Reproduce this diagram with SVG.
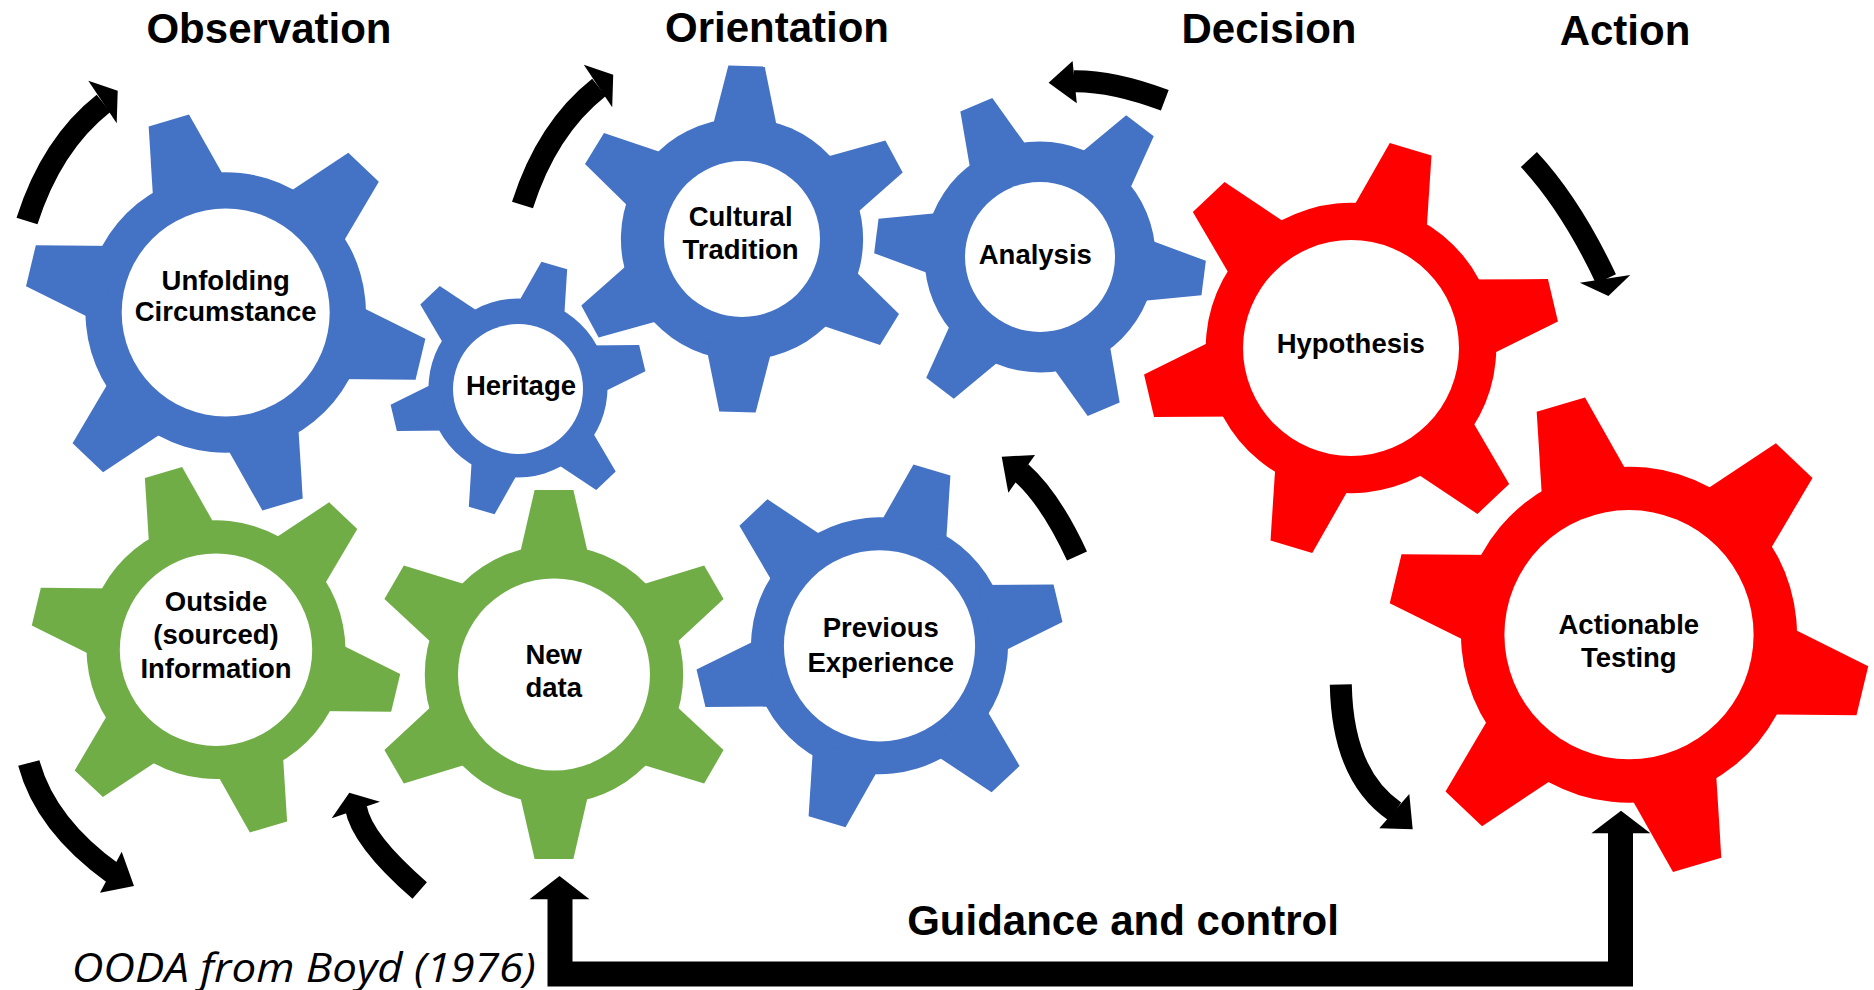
<svg xmlns="http://www.w3.org/2000/svg" xmlns:xlink="http://www.w3.org/1999/xlink" width="1874" height="990" viewBox="0 0 1874 990">
<style>
.blue{fill:#4472C4}
.green{fill:#70AD47}
.red{fill:#FF0000}
.hole{fill:#FFFFFF}
.lbl{font-family:"Liberation Sans",Arial,sans-serif;font-weight:bold;font-size:27.5px;fill:#000;text-anchor:middle}
.title{font-family:"Liberation Sans",Arial,sans-serif;font-weight:bold;font-size:42px;fill:#000;text-anchor:middle}
.arc{fill:none;stroke:#000;stroke-width:22}
.head{fill:#000}
.bar{fill:none;stroke:#000;stroke-width:25;stroke-linejoin:miter}
</style>
<defs>
<path id="tooth" d="M-10.5,-100 L10.5,-100 L19.7,-60 L-19.7,-60Z"/>
<g id="gear">
<circle r="70"/>
<use href="#tooth"/>
<use href="#tooth" transform="rotate(60)"/>
<use href="#tooth" transform="rotate(120)"/>
<use href="#tooth" transform="rotate(180)"/>
<use href="#tooth" transform="rotate(240)"/>
<use href="#tooth" transform="rotate(300)"/>
</g>
</defs>
<rect width="1874" height="990" fill="#FFFFFF"/>

<g id="titles">
<text class="title" x="269" y="43">Observation</text>
<text class="title" x="777" y="42">Orientation</text>
<text class="title" x="1269" y="43">Decision</text>
<text class="title" x="1625" y="45">Action</text>
</g>

<g id="node-unfolding">
<use href="#gear" class="blue" transform="translate(225.7,312.5) rotate(-16.5) scale(2.003)"/>
<circle class="hole" cx="225.7" cy="312.5" r="104"/>
<text class="lbl" x="225.7" y="289.5">Unfolding</text>
<text class="lbl" x="225.7" y="320.7">Circumstance</text>
</g>

<g id="node-heritage">
<use href="#gear" class="blue" transform="translate(518,388) rotate(16.5) scale(1.278)"/>
<circle class="hole" cx="518" cy="389" r="65"/>
<text class="lbl" x="521" y="395.3">Heritage</text>
</g>

<g id="node-cultural">
<use href="#gear" class="blue" transform="translate(742,239) rotate(1.5) scale(1.73)"/>
<circle class="hole" cx="742" cy="239" r="78"/>
<text class="lbl" x="740.6" y="225.7">Cultural</text>
<text class="lbl" x="740.6" y="259">Tradition</text>
</g>

<g id="node-analysis">
<use href="#gear" class="blue" transform="translate(1040,257) rotate(-22.7) scale(1.65)"/>
<circle class="hole" cx="1040" cy="257" r="75"/>
<text class="lbl" x="1035.3" y="264.3">Analysis</text>
</g>

<g id="node-hypothesis">
<use href="#gear" class="red" transform="translate(1351,348) rotate(16.7) scale(2.075)"/>
<circle class="hole" cx="1351" cy="348" r="108"/>
<text class="lbl" x="1350.8" y="352.7">Hypothesis</text>
</g>

<g id="node-actionable">
<use href="#gear" class="red" transform="translate(1629,634.7) rotate(-16.5) scale(2.40)"/>
<circle class="hole" cx="1629" cy="634.7" r="124.6"/>
<text class="lbl" x="1628.8" y="634">Actionable</text>
<text class="lbl" x="1628.8" y="667.3">Testing</text>
</g>

<g id="node-outside">
<use href="#gear" class="green" transform="translate(216,649.7) rotate(-16.5) scale(1.848)"/>
<circle class="hole" cx="216" cy="649.7" r="96.2"/>
<text class="lbl" x="216" y="610.7">Outside</text>
<text class="lbl" x="216" y="644.3">(sourced)</text>
<text class="lbl" x="216" y="678.3">Information</text>
</g>

<g id="node-newdata">
<use href="#gear" class="green" transform="translate(554,674.5) scale(1.846)"/>
<circle class="hole" cx="554" cy="674.5" r="96"/>
<text class="lbl" x="553.7" y="664">New</text>
<text class="lbl" x="553.7" y="697.3">data</text>
</g>

<g id="node-previous">
<use href="#gear" class="blue" transform="translate(879.5,645.8) rotate(16.6) scale(1.835)"/>
<circle class="hole" cx="879.5" cy="645.8" r="95.6"/>
<text class="lbl" x="880.8" y="637.3">Previous</text>
<text class="lbl" x="880.8" y="671.7">Experience</text>
</g>

<g id="connectors">
<path class="arc" d="M27,221 Q51.35,144.45 103.5,103.3"/>
<polygon class="head" points="88.3,80.7 117.7,90.7 116.7,123.3"/>
<g transform="translate(495.5,-16)">
<path class="arc" d="M27,221 Q51.35,144.45 103.5,103.3"/>
<polygon class="head" points="88.3,80.7 117.7,90.7 116.7,123.3"/>
</g>
<path class="arc" d="M1164.8,100.3 Q1113.35,80.85 1074,81.2"/>
<polygon class="head" points="1072.6,61 1048.6,82.7 1076.8,103.3"/>
<path class="arc" d="M1528.9,159.5 Q1570.95,204.65 1606,279"/>
<polygon class="head" points="1579.8,282.7 1608.4,296 1630.3,275"/>
<path class="arc" d="M1077,556 Q1050.4,498.5 1021,472.5"/>
<polygon class="head" points="1035,455 1001.7,456.7 1008.3,492.7"/>
<path class="arc" d="M1340.8,684.5 Q1342.5,775.75 1395,811.5"/>
<polygon class="head" points="1409.3,794 1412.7,829.3 1379.3,828.3"/>
<path class="arc" d="M28.8,763 Q45.55,825.25 114,874"/>
<polygon class="head" points="121.7,851.7 134,886 100,892.7"/>
<path class="arc" d="M419.7,890.5 Q361.8,840.15 356,808"/>
<polygon class="head" points="331.7,818.3 349.3,792.7 380,801.7"/>
<path class="bar" d="M1620.5,832 L1620.5,974 L560,974 L560,898"/>
<polygon class="head" points="1591.4,833.3 1621,810.7 1650.4,833.3"/>
<polygon class="head" points="529.5,899.3 559.5,876 589.5,899.3"/>
</g>

<g id="captions">
<text class="title" x="1123" y="935">Guidance and control</text>
<text x="71.7" y="981.5" font-family="'Open Sans','Noto Sans',sans-serif" font-style="italic" font-size="40" textLength="464" lengthAdjust="spacingAndGlyphs" fill="#000">OODA from Boyd (1976)</text>
</g>
</svg>
